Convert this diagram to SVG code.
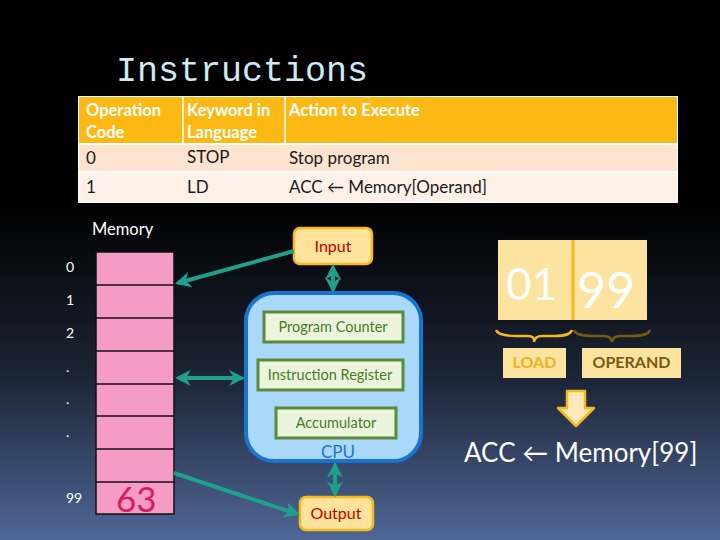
<svg xmlns="http://www.w3.org/2000/svg" width="720" height="540" viewBox="0 0 720 540">
<defs>
<linearGradient id="bg" x1="0" y1="0" x2="0" y2="1">
<stop offset="0" stop-color="#000000"/>
<stop offset="0.38" stop-color="#000000"/>
<stop offset="0.7" stop-color="#1c2536"/>
<stop offset="1" stop-color="#4f6796"/>
</linearGradient>
<marker id="ah" viewBox="0 0 10 10" refX="8" refY="5" markerWidth="4" markerHeight="4.4" orient="auto-start-reverse" markerUnits="strokeWidth">
<path d="M0,0 L10,5 L0,10 L3,5 Z" fill="#1fa08c"/>
</marker>
<style>
.t{font-family:"Lato","Open Sans","Liberation Sans",sans-serif}
.hd{font-size:16.5px;font-weight:bold;fill:#ffffff}
.cell{font-size:17px;fill:#1a1a1a}
.idx{font-family:"Lato","Liberation Sans",sans-serif;font-size:14px;fill:#ffffff}
.conn{stroke:#1fa08c;stroke-width:4;fill:none}
.reg{fill:#eaf5dc;stroke:#5a8a3a;stroke-width:3}
.regt{font-size:14.5px;fill:#4a7a2a;text-anchor:middle}
.io{fill:#ffe39a;stroke:#f5b820;stroke-width:2.5}
.iot{font-size:16px;fill:#c00000;text-anchor:middle}
.mem{fill:#f59cc6;stroke:#111;stroke-width:1.5}
</style>
</defs>
<rect width="720" height="540" fill="url(#bg)"/>
<text x="116" y="81" font-family="'Liberation Mono','DejaVu Sans Mono',monospace" font-size="35" fill="#cfe8f4">Instructions</text>
<g id="table">
<rect x="78" y="96" width="600" height="107" fill="#ffffff"/>
<rect x="79" y="97" width="598" height="46" fill="#fdb913"/>
<rect x="79" y="145" width="598" height="26" fill="#fde4cf"/>
<rect x="79" y="173" width="598" height="29" fill="#fef1e8"/>
<line x1="183" y1="97" x2="183" y2="143" stroke="#fff" stroke-width="1.5"/>
<line x1="285" y1="97" x2="285" y2="143" stroke="#fff" stroke-width="1.5"/>
<text class="t hd" x="86" y="116">Operation</text>
<text class="t hd" x="86" y="138">Code</text>
<text class="t hd" x="187" y="116">Keyword in</text>
<text class="t hd" x="187" y="138">Language</text>
<text class="t hd" x="289" y="116">Action to Execute</text>
<text class="t cell" x="86" y="164">0</text>
<text class="t cell" x="187" y="163">STOP</text>
<text class="t cell" x="289" y="164">Stop program</text>
<text class="t cell" x="86" y="193">1</text>
<text class="t cell" x="187" y="193">LD</text>
<text class="t cell" x="289" y="193">ACC ← Memory[Operand]</text>
</g>
<g id="memory">
<text class="t" x="92" y="235" font-size="16.5" fill="#fff">Memory</text>
<rect class="mem" x="96" y="252" width="78" height="262"/>
<g stroke="#111" stroke-width="1.5">
<line x1="96" y1="285" x2="174" y2="285"/>
<line x1="96" y1="318" x2="174" y2="318"/>
<line x1="96" y1="351" x2="174" y2="351"/>
<line x1="96" y1="384" x2="174" y2="384"/>
<line x1="96" y1="416" x2="174" y2="416"/>
<line x1="96" y1="449" x2="174" y2="449"/>
<line x1="96" y1="482" x2="174" y2="482"/>
</g>
<text class="idx" x="66" y="272">0</text>
<text class="idx" x="66" y="305">1</text>
<text class="idx" x="66" y="338">2</text>
<text class="idx" x="66" y="372">.</text>
<text class="idx" x="66" y="404">.</text>
<text class="idx" x="66" y="437">.</text>
<text class="idx" x="66" y="503">99</text>
<text class="t" x="116" y="512" font-size="35" fill="#d81b60">63</text>
</g>
<g id="input">
<rect class="io" x="294" y="228" width="78" height="36" rx="6"/>
<text class="t iot" x="333" y="252">Input</text>
</g>
<g id="output">
<rect class="io" x="300" y="497" width="73" height="33" rx="6"/>
<text class="t iot" x="336" y="519">Output</text>
</g>
<g id="cpu">
<rect x="246" y="293" width="175" height="168" rx="28" fill="#a9d8fb" stroke="#1874d0" stroke-width="4"/>
<rect class="reg" x="264" y="312" width="139" height="30"/>
<text class="t regt" x="333" y="332">Program Counter</text>
<rect class="reg" x="258" y="360" width="145" height="30"/>
<text class="t regt" x="330" y="380">Instruction Register</text>
<rect class="reg" x="276" y="408" width="120" height="30"/>
<text class="t regt" x="336" y="428">Accumulator</text>
<text class="t" x="338" y="458" font-size="17" fill="#1e74c8" text-anchor="middle">CPU</text>
</g>
<g id="connectors">
<line class="conn" x1="294" y1="251" x2="178" y2="283" marker-end="url(#ah)"/>
<line class="conn" x1="178" y1="378" x2="242" y2="378" marker-start="url(#ah)" marker-end="url(#ah)"/>
<line class="conn" x1="174" y1="473" x2="297" y2="514" marker-end="url(#ah)"/>
<line class="conn" x1="333" y1="267" x2="333" y2="290" marker-start="url(#ah)" marker-end="url(#ah)"/>
<line class="conn" x1="335" y1="465" x2="335" y2="494" marker-start="url(#ah)" marker-end="url(#ah)"/>
</g>
<g id="instruction">
<rect x="498" y="240" width="149" height="80" fill="#fde3a0"/>
<line x1="573" y1="240" x2="573" y2="320" stroke="#f5b820" stroke-width="3"/>
<text class="t" x="506" y="300" font-size="44" fill="#ffffff">01</text>
<text class="t" x="577" y="308" font-size="50" fill="#ffffff">99</text>
<path d="M496,330 Q498,336 516,336 L528,336 Q535,336 534,342 Q535,336 542,336 L555,336 Q570,336 572,330" fill="none" stroke="#f5b820" stroke-width="2.5"/>
<path d="M574,330 Q576,336 594,336 L604,336 Q611,336 612,342 Q613,336 620,336 L632,336 Q648,336 650,330" fill="none" stroke="#7a5a10" stroke-width="2.5"/>
</g>
<g id="load">
<rect x="503" y="348" width="63" height="30" fill="#fde3a0"/>
<text class="t" x="534.5" y="368" font-size="16" font-weight="bold" fill="#f0b020" text-anchor="middle">LOAD</text>
</g>
<g id="operand">
<rect x="582" y="348" width="99" height="30" fill="#fde3a0"/>
<text class="t" x="631.5" y="368" font-size="16" font-weight="bold" fill="#7a5a10" text-anchor="middle">OPERAND</text>
</g>
<g id="downarrow">
<path d="M567,391 L585,391 L585,408 L594,408 L576,426 L558,408 L567,408 Z" fill="#ffe8b8" stroke="#f5b820" stroke-width="2.5" stroke-linejoin="round"/>
</g>
<text class="t" x="464" y="462" font-size="26" fill="#ffffff">ACC ← Memory[99]</text>
</svg>
